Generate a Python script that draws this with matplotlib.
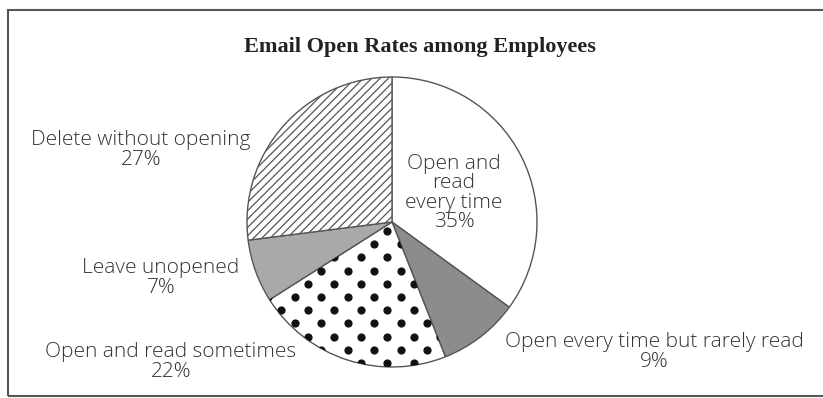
import numpy as np
import matplotlib.pyplot as plt
from matplotlib.patches import Rectangle

# data (clockwise from 12 o'clock)
labels = ['Open and\nread\nevery time', 'Open every time but rarely read',
          'Open and read sometimes', 'Leave unopened', 'Delete without opening']
shares = [35, 9, 22, 7, 27]
colors = ['white', '#8c8c8c', 'white', '#a9a9a9', 'white']
hatches = [None, None, None, None, '////']

# label placement in pixels (x, y from top)
label_pos = [(454, 193), (654, 352), (171, 362), (161, 278), (141, 150)]

plt.rcParams['hatch.color'] = '#444444'
plt.rcParams['hatch.linewidth'] = 0.9

W, H = 823, 398
fig = plt.figure(figsize=(W / 100, H / 100), dpi=100)
ax = fig.add_axes([0, 0, 1, 1])

cx, cy, r = 392, H - 222, 145
wedges, _ = ax.pie(shares, colors=colors, startangle=90, counterclock=False,
                   center=(cx, cy), radius=r,
                   wedgeprops=dict(edgecolor='#555555', linewidth=1.0))
for w, h in zip(wedges, hatches):
    if h:
        w.set_hatch(h)

# dotted pattern for "Open and read sometimes"
gx, gy = np.meshgrid(np.arange(cx - r, cx + r, 26.5), np.arange(cy - r, cy + r, 13.2))
gx = gx + (np.arange(gx.shape[0])[:, None] % 2) * 13.25
dots = ax.scatter(gx.ravel() + 8, gy.ravel() + 4, s=24, color='#111111', zorder=3)
dots.set_clip_path(wedges[2])

ax.set_xlim(0, W)
ax.set_ylim(0, H)
ax.set_aspect('auto')
ax.axis('off')

# frame
ax.add_patch(Rectangle((8, 2), W + 20, H - 12, fill=False, edgecolor='#555555', linewidth=1.5))

ax.text(420, H - 47, 'Email Open Rates among Employees', ha='center', va='center',
        family='Liberation Serif', fontweight='bold', fontsize=16, color='#222222')

for lab, v, (x, y) in zip(labels, shares, label_pos):
    ax.text(x, H - y, f'{lab}\n{v}%', ha='center', va='center', family=['Open Sans', 'DejaVu Sans'],
            fontweight='light', fontsize=15, color='#333333', linespacing=0.95)

fig.savefig('out.png', dpi=100)
